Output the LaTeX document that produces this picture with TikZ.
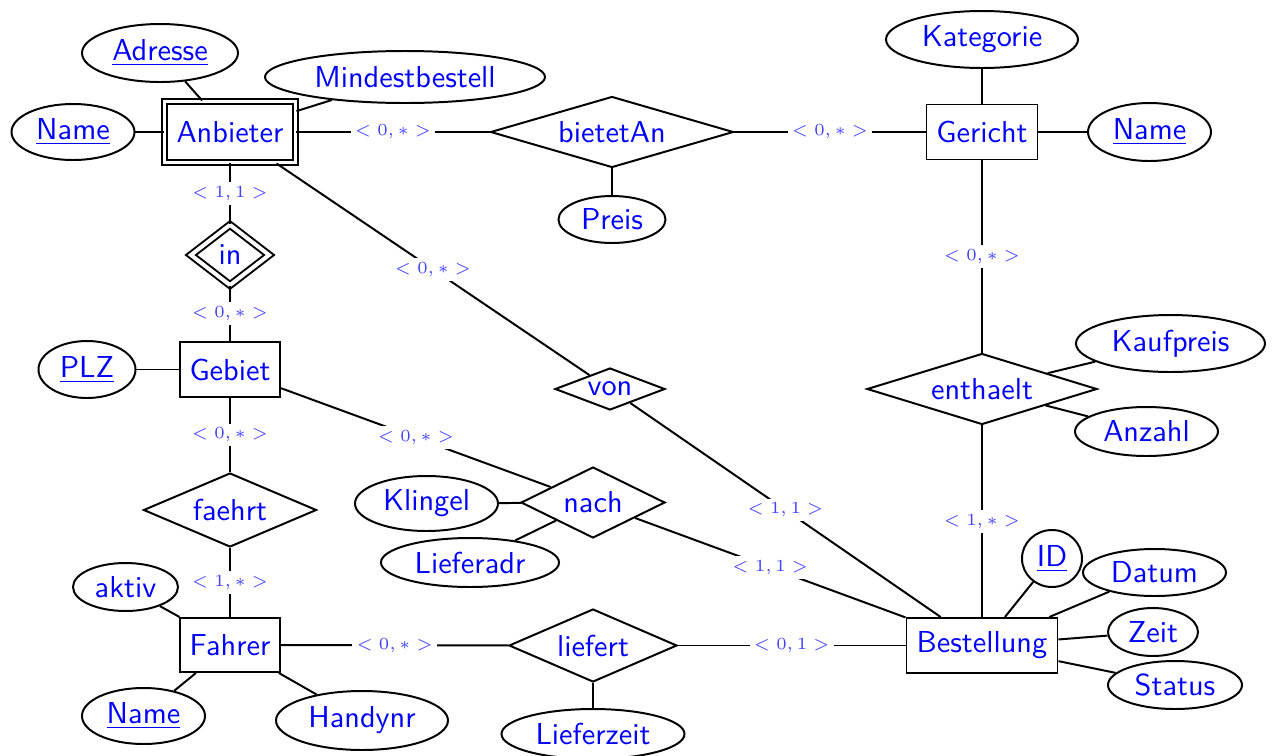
\documentclass[tikz,border=0pt]{standalone}
\usetikzlibrary{shapes.geometric}
\begin{document}
\begin{tikzpicture}[x=0.3533pt,y=-0.3533pt,
  every node/.style={font=\fontsize{10.7}{13}\selectfont\sffamily, text=blue},
  line/.style={line width=0.7pt},
  sz/.style 2 args={minimum width={#1*0.3533pt}, minimum height={#2*0.3533pt}},
  entity/.style={draw, line width=0.7pt, rectangle, inner sep=0pt},
  weakentity/.style={entity, double, double distance=1.4pt},
  attr/.style={draw, line width=0.7pt, ellipse, inner sep=0pt},
  rel/.style={draw, line width=0.7pt, diamond, inner sep=0pt},
  weakrel/.style={rel, double, double distance=1.4pt},
  card/.style={midway, fill=white, inner sep=1.5pt, font=\fontsize{6}{7}\selectfont, text=blue!75}
]
\useasboundingbox (0,0) rectangle (1274,756);

% entities
\node[weakentity, sz={131}{61}] (anb) at (230,132) {Anbieter};
\node[entity, sz={111}{55}] (gericht) at (982,132) {Gericht};
\node[entity, sz={100}{55}] (gebiet) at (230,369.5) {Gebiet};
\node[entity, sz={100}{54}] (fahrer) at (230,645) {Fahrer};
\node[entity, sz={151}{55}] (best) at (982,645.5) {Bestellung};

% relationships
\node[rel, aspect=3.42, sz={243}{71}] (bietet) at (612,132) {bietetAn};
\node[weakrel, aspect=1.3, sz={79}{61}] (inrel) at (230,255) {in};
\node[rel, aspect=2.34, sz={173}{74}] (faehrt) at (230,510) {faehrt};
\node[rel, aspect=2.3, sz={168}{73}] (liefert) at (593,645.5) {liefert};
\node[rel, aspect=3.24, sz={230}{71}] (enth) at (982,389) {enthaelt};
\node[rel, aspect=2.62, sz={110}{42}] (von) at (610,389) {von};
\node[rel, aspect=2.03, sz={144}{71}] (nach) at (593,502.5) {nach};

% attributes
\node[attr, sz={156}{58}] (adresse) at (160,53) {\underline{Adresse}};
\node[attr, sz={280}{52}] (mindest) at (405,77) {Mindestbestell};
\node[attr, sz={123}{56}] (anbname) at (73,132) {\underline{Name}};
\node[attr, sz={107}{47}] (preis) at (612,219.5) {Preis};
\node[attr, sz={192}{57}] (kategorie) at (982,39.5) {Kategorie};
\node[attr, sz={123}{58}] (gername) at (1149.5,132) {\underline{Name}};
\node[attr, sz={97}{57}] (plz) at (87,369.5) {\underline{PLZ}};
\node[attr, sz={105}{48}] (aktiv) at (125.5,587) {aktiv};
\node[attr, sz={123}{56}] (fahname) at (143.5,716) {\underline{Name}};
\node[attr, sz={172}{59}] (handy) at (362,720.5) {Handynr};
\node[attr, sz={183}{50}] (lieferzeit) at (593,734) {Lieferzeit};
\node[attr, sz={60}{57}] (id) at (1052,558.5) {\underline{ID}};
\node[attr, sz={143}{47}] (datum) at (1154.5,572.5) {Datum};
\node[attr, sz={90}{48}] (zeit) at (1153,632) {Zeit};
\node[attr, sz={134}{48}] (status) at (1175,685) {Status};
\node[attr, sz={189}{57}] (kauf) at (1170.5,343.5) {Kaufpreis};
\node[attr, sz={143}{49}] (anzahl) at (1146.5,431.5) {Anzahl};
\node[attr, sz={143}{55}] (klingel) at (426.5,503.5) {Klingel};
\node[attr, sz={178}{49}] (lieferadr) at (470,562.5) {Lieferadr};

% attribute links
\draw[line] (adresse) -- (anb);
\draw[line] (mindest) -- (anb);
\draw[line] (anbname) -- (anb);
\draw[line] (preis) -- (bietet);
\draw[line] (kategorie) -- (gericht);
\draw[line] (gername) -- (gericht);
\draw[line] (plz) -- (gebiet);
\draw[line] (aktiv) -- (fahrer);
\draw[line] (fahname) -- (fahrer);
\draw[line] (handy) -- (fahrer);
\draw[line] (lieferzeit) -- (liefert);
\draw[line] (id) -- (best);
\draw[line] (datum) -- (best);
\draw[line] (zeit) -- (best);
\draw[line] (status) -- (best);
\draw[line] (kauf) -- (enth);
\draw[line] (anzahl) -- (enth);
\draw[line] (klingel) -- (nach);
\draw[line] (lieferadr) -- (nach);

% relationship links with cardinalities
\draw[line] (anb) -- node[card] {$<0,*>$} (bietet);
\draw[line] (bietet) -- node[card] {$<0,*>$} (gericht);
\draw[line] (anb) -- node[card] {$<1,1>$} (inrel);
\draw[line] (inrel) -- node[card] {$<0,*>$} (gebiet);
\draw[line] (anb) -- node[card] {$<0,*>$} (von);
\draw[line] (von) -- node[card] {$<1,1>$} (best);
\draw[line] (gebiet) -- node[card] {$<0,*>$} (nach);
\draw[line] (nach) -- node[card] {$<1,1>$} (best);
\draw[line] (gebiet) -- node[card] {$<0,*>$} (faehrt);
\draw[line] (faehrt) -- node[card] {$<1,*>$} (fahrer);
\draw[line] (fahrer) -- node[card] {$<0,*>$} (liefert);
\draw[line] (liefert) -- node[card] {$<0,1>$} (best);
\draw[line] (gericht) -- node[card] {$<0,*>$} (enth);
\draw[line] (enth) -- node[card] {$<1,*>$} (best);
\end{tikzpicture}
\end{document}
